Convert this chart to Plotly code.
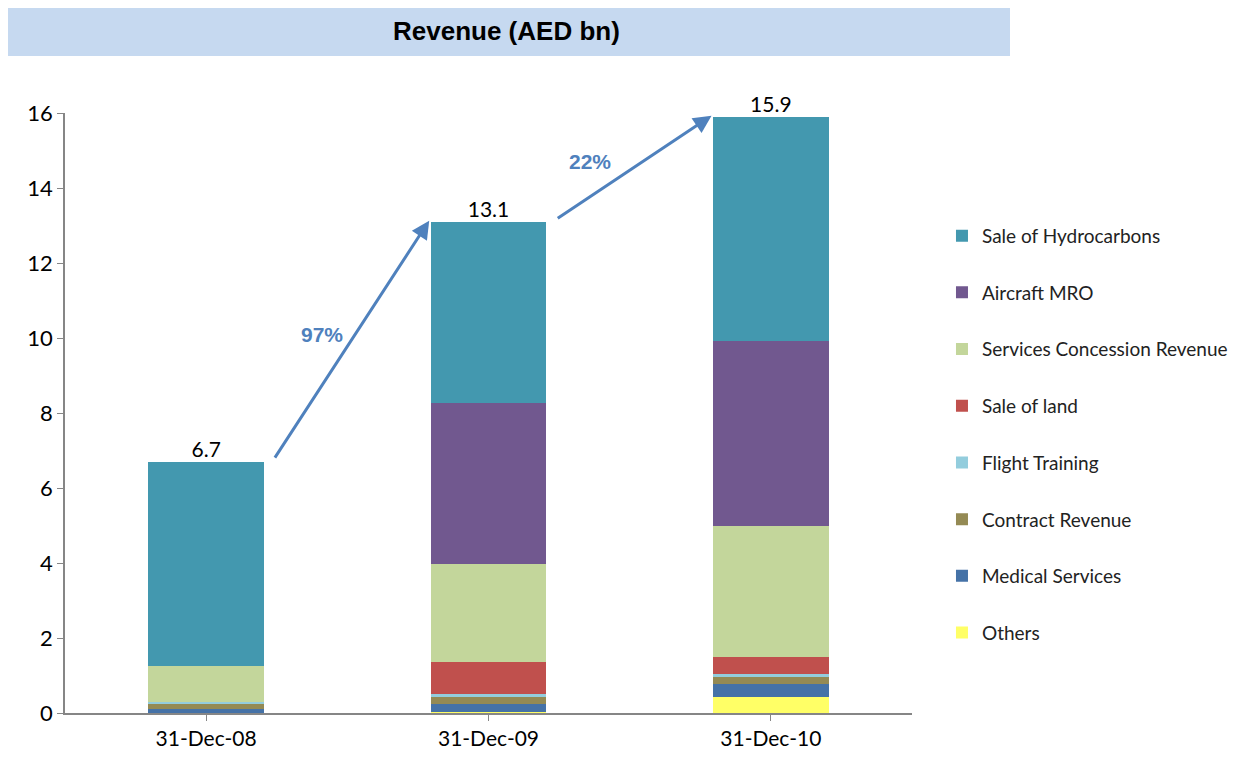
import plotly.graph_objects as go

categories = ["31-Dec-08", "31-Dec-09", "31-Dec-10"]
totals = [6.7, 13.1, 15.9]
growth_labels = ["97%", "22%"]

others = [0.0, 0.03, 0.43]
medical = [0.10, 0.20, 0.35]
contract = [0.15, 0.19, 0.19]
flight = [0.05, 0.10, 0.06]
land = [0.0, 0.84, 0.47]
services = [0.95, 2.61, 3.49]
aircraft = [0.0, 4.30, 4.93]
hydro = [5.45, 4.83, 5.98]

series = [
    ("Others", others, "#FFFF66"),
    ("Medical Services", medical, "#4572A7"),
    ("Contract Revenue", contract, "#948A54"),
    ("Flight Training", flight, "#93CDDD"),
    ("Sale of land", land, "#C0504D"),
    ("Services Concession Revenue", services, "#C3D69B"),
    ("Aircraft MRO", aircraft, "#71588F"),
    ("Sale of Hydrocarbons", hydro, "#4398AF"),
]

xpos = list(range(len(categories)))
fig = go.Figure()
n = len(series)
for i, (name, vals, color) in enumerate(series):
    fig.add_trace(go.Bar(
        x=xpos, y=vals, name=name, marker=dict(color=color, line=dict(width=0)),
        width=0.41, legendgroup=name, legendrank=n - i,
    ))

fig.add_trace(go.Scatter(
    x=xpos, y=totals, mode="text", text=[f"{t:.1f}" for t in totals],
    textposition="top center", textfont=dict(family="Lato", size=21, color="#000"),
    showlegend=False, cliponaxis=False, hoverinfo="skip",
))

arrow_color = "#4F81BD"
for i, lab in enumerate(growth_labels):
    x0, y0 = xpos[i] + 0.24, totals[i] + 0.07
    x1, y1 = xpos[i + 1] - 0.21, totals[i + 1] + 0.03
    fig.add_annotation(
        x=x1, y=y1, ax=x0, ay=y0, xref="x", yref="y", axref="x", ayref="y",
        showarrow=True, arrowhead=2, arrowsize=1.2, arrowwidth=3, arrowcolor=arrow_color, text="",
    )

fig.add_annotation(x=0.41, y=10.1, xref="x", yref="y", text="<b>" + growth_labels[0] + "</b>",
                   showarrow=False, font=dict(family="Liberation Sans", size=21, color=arrow_color))
fig.add_annotation(x=1.36, y=14.7, xref="x", yref="y", text="<b>" + growth_labels[1] + "</b>",
                   showarrow=False, font=dict(family="Liberation Sans", size=21, color=arrow_color))

# title box
fig.add_shape(type="rect", xref="paper", yref="paper", x0=-0.0744, x1=1.1157, y0=1.095, y1=1.178,
              fillcolor="#C6D9F0", line=dict(width=0), layer="below")
fig.add_annotation(x=0.5207, y=1.1365, xref="paper", yref="paper", yanchor="middle", xanchor="center",
                   text="<b>Revenue (AED bn)</b>",
                   showarrow=False, font=dict(family="Liberation Sans", size=26, color="#000"))

fig.update_layout(
    barmode="stack",
    width=1231, height=757,
    margin=dict(l=57, r=327, t=105, b=52, autoexpand=False),
    plot_bgcolor="white", paper_bgcolor="white",
    showlegend=True,
    legend=dict(x=1.0354, y=0.827, xanchor="left", yanchor="top", traceorder="grouped",
                tracegroupgap=29, font=dict(family="Lato", size=19, color="#222"),
                itemwidth=30, bgcolor="rgba(0,0,0,0)"),
    xaxis=dict(tickmode="array", tickvals=xpos, ticktext=categories, range=[-0.5, 2.5],
               showline=True, linecolor="#868686", linewidth=1.5, ticks="outside",
               tickcolor="#868686", ticklen=6, showgrid=False, zeroline=False,
               tickfont=dict(family="Lato", size=21, color="#000")),
    yaxis=dict(range=[0, 16], dtick=2, showline=True, linecolor="#868686", linewidth=1.5,
               ticks="outside", tickcolor="#868686", ticklen=6, showgrid=False, zeroline=False,
               tickfont=dict(family="Lato", size=22, color="#000")),
    font=dict(family="Lato"),
)

fig.write_html("out.html")
